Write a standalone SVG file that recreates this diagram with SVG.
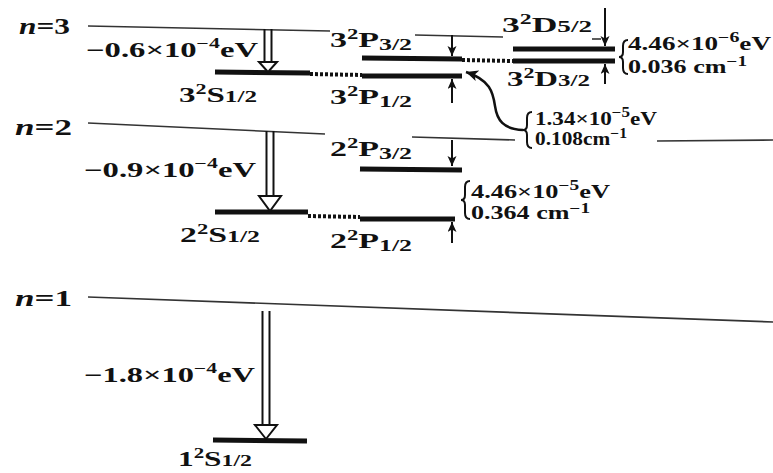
<svg xmlns="http://www.w3.org/2000/svg" width="773" height="473" viewBox="0 0 773 473">
<defs>
<marker id="ah" markerWidth="11" markerHeight="10" refX="10" refY="4.5" orient="auto" markerUnits="userSpaceOnUse"><path d="M0,0 L10,4.5 L0,9 L2.5,4.5 Z" fill="#111"/></marker>
<marker id="ah2" markerWidth="14" markerHeight="12" refX="12" refY="5.5" orient="auto" markerUnits="userSpaceOnUse"><path d="M0,0 L12,5.5 L0,11 L3,5.5 Z" fill="#111"/></marker>
</defs>
<style>
text{font-family:"Liberation Serif","Times New Roman",serif;font-weight:bold;fill:#111;font-size:21px}
.sub{font-size:16px}
.sup{font-size:14px}
.sm2{font-size:19px}
.nl{font-size:24px}
.lvl{stroke:#333;stroke-width:1.6;fill:none}
.bar{stroke:#111;stroke-width:5}
.dot{stroke:#111;stroke-width:4;stroke-dasharray:3 2}
.sm{stroke:#111;stroke-width:2;marker-end:url(#ah)}
.ha line{stroke:#111;stroke-width:2}
.ha polygon{fill:#fff;stroke:#111;stroke-width:2;stroke-linejoin:miter}
.br{fill:none;stroke:#111;stroke-width:2}
</style>
<rect width="773" height="473" fill="#fff"/>

<g id="level-n3">
<text class="nl" x="19" y="34" textLength="51" lengthAdjust="spacingAndGlyphs"><tspan font-style="italic">n</tspan>=3</text>
<line class="lvl" x1="88" y1="26" x2="330" y2="31"/>
<line class="lvl" x1="415" y1="35" x2="503" y2="37"/>
<line class="lvl" x1="592" y1="39" x2="601" y2="39"/>
<text x="86" y="57" textLength="172" lengthAdjust="spacingAndGlyphs">−0.6×10<tspan class="sup" dy="-9">−4</tspan><tspan dy="9">eV</tspan></text>
</g>

<g id="n3-S12">
<line class="bar" x1="215" y1="72" x2="310" y2="73"/>
<text x="179" y="102" textLength="78" lengthAdjust="spacingAndGlyphs">3<tspan class="sup" dy="-8">2</tspan><tspan dy="8">S</tspan><tspan class="sub">1/2</tspan></text>
</g>
<g id="n3-P32">
<line class="bar" x1="362" y1="58" x2="462" y2="59"/>
<text x="330" y="47" textLength="82" lengthAdjust="spacingAndGlyphs">3<tspan class="sup" dy="-8">2</tspan><tspan dy="8">P</tspan><tspan class="sub" dy="3">3/2</tspan></text>
</g>
<g id="n3-P12">
<line class="bar" x1="362" y1="76" x2="462" y2="76"/>
<text x="330" y="104" textLength="82" lengthAdjust="spacingAndGlyphs">3<tspan class="sup" dy="-8">2</tspan><tspan dy="8">P</tspan><tspan class="sub" dy="3">1/2</tspan></text>
</g>
<g id="n3-D52">
<line class="bar" x1="513" y1="49" x2="615" y2="49"/>
<text x="502" y="32" textLength="90" lengthAdjust="spacingAndGlyphs">3<tspan class="sup" dy="-8">2</tspan><tspan dy="8">D</tspan><tspan class="sub">5/2</tspan></text>
</g>
<g id="n3-D32">
<line class="bar" x1="513" y1="61" x2="615" y2="61"/>
<text x="507" y="86" textLength="83" lengthAdjust="spacingAndGlyphs">3<tspan class="sup" dy="-8">2</tspan><tspan dy="8">D</tspan><tspan class="sub">3/2</tspan></text>
</g>
<g id="split-D">
<path class="br" d="M628,40 q-5,0 -5,6 v6 q0,5 -4,5 q4,0 4,5 v6 q0,6 5,6"/>
<text class="sm2" x="628" y="50" textLength="143" lengthAdjust="spacingAndGlyphs">4.46×10<tspan class="sup" dy="-8">−6</tspan><tspan dy="8">eV</tspan></text>
<text class="sm2" x="628" y="73" textLength="119" lengthAdjust="spacingAndGlyphs">0.036 cm<tspan class="sup" dy="-7">−1</tspan></text>
</g>
<g id="split-n3P">
<path class="br" d="M532,112 q-5,0 -5,6 v7 q0,5 -4,5 q4,0 4,5 v7 q0,6 5,6"/>
<text class="sm2" x="535" y="125" textLength="122" lengthAdjust="spacingAndGlyphs">1.34×10<tspan class="sup" dy="-8">−5</tspan><tspan dy="8">eV</tspan></text>
<text class="sm2" x="535" y="145" textLength="92" lengthAdjust="spacingAndGlyphs">0.108cm<tspan class="sup" dy="-7">−1</tspan></text>
</g>

<g id="level-n2">
<text class="nl" x="15" y="135" textLength="57" lengthAdjust="spacingAndGlyphs"><tspan font-style="italic">n</tspan>=2</text>
<line class="lvl" x1="88" y1="123" x2="325" y2="134"/>
<line class="lvl" x1="412" y1="137" x2="515" y2="140"/>
<line class="lvl" x1="657" y1="141" x2="773" y2="140"/>
<text x="84" y="177" textLength="172" lengthAdjust="spacingAndGlyphs">−0.9×10<tspan class="sup" dy="-9">−4</tspan><tspan dy="9">eV</tspan></text>
</g>
<g id="n2-S12">
<line class="bar" x1="215" y1="212" x2="308" y2="212"/>
<text x="180" y="242" textLength="80" lengthAdjust="spacingAndGlyphs">2<tspan class="sup" dy="-8">2</tspan><tspan dy="8">S</tspan><tspan class="sub">1/2</tspan></text>
</g>
<g id="n2-P32">
<line class="bar" x1="360" y1="169" x2="462" y2="170"/>
<text x="330" y="156" textLength="82" lengthAdjust="spacingAndGlyphs">2<tspan class="sup" dy="-8">2</tspan><tspan dy="8">P</tspan><tspan class="sub" dy="3">3/2</tspan></text>
</g>
<g id="n2-P12">
<line class="bar" x1="360" y1="219" x2="455" y2="219"/>
<text x="330" y="248" textLength="82" lengthAdjust="spacingAndGlyphs">2<tspan class="sup" dy="-8">2</tspan><tspan dy="8">P</tspan><tspan class="sub" dy="3">1/2</tspan></text>
</g>
<g id="split-n2P">
<path class="br" d="M470,181 q-5,0 -5,6 v8 q0,5 -4,5 q4,0 4,5 v8 q0,6 5,6"/>
<text class="sm2" x="471" y="198" textLength="139" lengthAdjust="spacingAndGlyphs">4.46×10<tspan class="sup" dy="-8">−5</tspan><tspan dy="8">eV</tspan></text>
<text class="sm2" x="471" y="219" textLength="119" lengthAdjust="spacingAndGlyphs">0.364 cm<tspan class="sup" dy="-6">−1</tspan></text>
</g>

<g id="level-n1">
<text class="nl" x="15" y="306" textLength="57" lengthAdjust="spacingAndGlyphs"><tspan font-style="italic">n</tspan>=1</text>
<line class="lvl" x1="88" y1="297" x2="773" y2="322"/>
<text x="84" y="382" textLength="171" lengthAdjust="spacingAndGlyphs">−1.8×10<tspan class="sup" dy="-9">−4</tspan><tspan dy="9">eV</tspan></text>
</g>
<g id="n1-S12">
<line class="bar" x1="213" y1="440" x2="307" y2="441"/>
<text x="178" y="466" textLength="74" lengthAdjust="spacingAndGlyphs">1<tspan class="sup" dy="-8">2</tspan><tspan dy="8">S</tspan><tspan class="sub">1/2</tspan></text>
</g>

<g id="connectors">
<line class="dot" x1="310" y1="74" x2="362" y2="75"/>
<line class="dot" x1="462" y1="60" x2="513" y2="61"/>
<line class="dot" x1="308" y1="216" x2="360" y2="217"/>
<g class="ha">
<line x1="264.5" y1="29" x2="264.5" y2="62"/><line x1="271.5" y1="29" x2="271.5" y2="62"/>
<polygon points="259,62 277,62 268,72"/>
</g>
<g class="ha">
<line x1="266.5" y1="131" x2="266.5" y2="196"/><line x1="273.5" y1="131" x2="273.5" y2="196"/>
<polygon points="259,196 281,196 270,211"/>
</g>
<g class="ha">
<line x1="262.5" y1="311" x2="262.5" y2="425"/><line x1="269.5" y1="311" x2="269.5" y2="425"/>
<polygon points="255,425 277,425 266,439"/>
</g>
<line class="sm" x1="452" y1="35" x2="452" y2="56"/>
<line class="sm" x1="452" y1="103" x2="452" y2="79"/>
<line class="sm" x1="605" y1="8" x2="605" y2="46"/>
<line class="sm" x1="605" y1="84" x2="605" y2="64"/>
<line class="sm" x1="452" y1="140" x2="452" y2="166"/>
<line class="sm" x1="452" y1="243" x2="452" y2="222"/>
<path d="M523,130 C503,129 497,120 495,106 C493,92 490,80 466,72" fill="none" stroke="#111" stroke-width="2.5" marker-end="url(#ah2)"/>
</g>
</svg>
